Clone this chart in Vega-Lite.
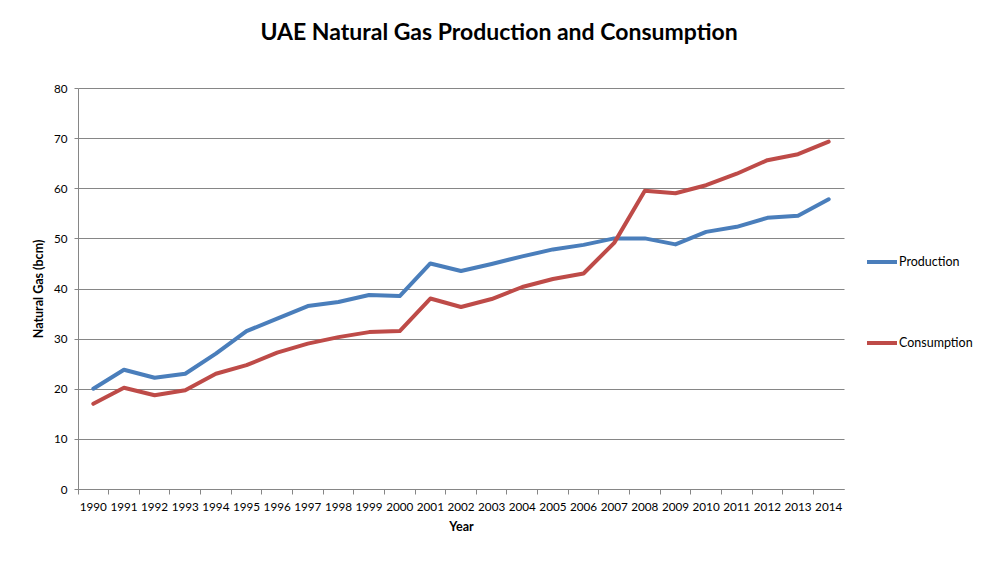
{
  "$schema": "https://vega.github.io/schema/vega-lite/v6.json",
  "autosize": {"type": "none"},
  "width": 766,
  "height": 401,
  "padding": {"left": 78, "top": 88, "right": 154, "bottom": 91},
  "background": "white",
  "title": {
    "text": "UAE Natural Gas Production and Consumption",
    "frame": "group",
    "anchor": "middle",
    "dx": 38,
    "offset": 20,
    "baseline": "alphabetic",
    "font": "Lato",
    "fontSize": 23,
    "fontWeight": "bold",
    "color": "#000000"
  },
  "data": {
    "values": [
      {"year": "1990", "series": "Production", "value": 20.0},
      {"year": "1991", "series": "Production", "value": 23.8},
      {"year": "1992", "series": "Production", "value": 22.2},
      {"year": "1993", "series": "Production", "value": 23.0},
      {"year": "1994", "series": "Production", "value": 27.0},
      {"year": "1995", "series": "Production", "value": 31.5},
      {"year": "1996", "series": "Production", "value": 34.0},
      {"year": "1997", "series": "Production", "value": 36.5},
      {"year": "1998", "series": "Production", "value": 37.3},
      {"year": "1999", "series": "Production", "value": 38.7},
      {"year": "2000", "series": "Production", "value": 38.5},
      {"year": "2001", "series": "Production", "value": 45.0},
      {"year": "2002", "series": "Production", "value": 43.5},
      {"year": "2003", "series": "Production", "value": 44.9},
      {"year": "2004", "series": "Production", "value": 46.4},
      {"year": "2005", "series": "Production", "value": 47.8},
      {"year": "2006", "series": "Production", "value": 48.7},
      {"year": "2007", "series": "Production", "value": 50.0},
      {"year": "2008", "series": "Production", "value": 50.0},
      {"year": "2009", "series": "Production", "value": 48.8},
      {"year": "2010", "series": "Production", "value": 51.3},
      {"year": "2011", "series": "Production", "value": 52.3},
      {"year": "2012", "series": "Production", "value": 54.1},
      {"year": "2013", "series": "Production", "value": 54.5},
      {"year": "2014", "series": "Production", "value": 57.8},
      {"year": "1990", "series": "Consumption", "value": 17.0},
      {"year": "1991", "series": "Consumption", "value": 20.2},
      {"year": "1992", "series": "Consumption", "value": 18.7},
      {"year": "1993", "series": "Consumption", "value": 19.7},
      {"year": "1994", "series": "Consumption", "value": 23.0},
      {"year": "1995", "series": "Consumption", "value": 24.7},
      {"year": "1996", "series": "Consumption", "value": 27.2},
      {"year": "1997", "series": "Consumption", "value": 29.0},
      {"year": "1998", "series": "Consumption", "value": 30.3},
      {"year": "1999", "series": "Consumption", "value": 31.3},
      {"year": "2000", "series": "Consumption", "value": 31.5},
      {"year": "2001", "series": "Consumption", "value": 38.0},
      {"year": "2002", "series": "Consumption", "value": 36.3},
      {"year": "2003", "series": "Consumption", "value": 37.9},
      {"year": "2004", "series": "Consumption", "value": 40.3},
      {"year": "2005", "series": "Consumption", "value": 41.9},
      {"year": "2006", "series": "Consumption", "value": 43.0},
      {"year": "2007", "series": "Consumption", "value": 49.1},
      {"year": "2008", "series": "Consumption", "value": 59.5},
      {"year": "2009", "series": "Consumption", "value": 59.0},
      {"year": "2010", "series": "Consumption", "value": 60.6},
      {"year": "2011", "series": "Consumption", "value": 62.9},
      {"year": "2012", "series": "Consumption", "value": 65.6},
      {"year": "2013", "series": "Consumption", "value": 66.8},
      {"year": "2014", "series": "Consumption", "value": 69.3}
    ]
  },
  "mark": {"type": "line", "strokeWidth": 4, "strokeCap": "round", "strokeJoin": "round"},
  "encoding": {
    "x": {
      "field": "year",
      "type": "ordinal",
      "scale": {"type": "band", "paddingInner": 0, "paddingOuter": 0},
      "axis": {
        "title": "Year",
        "titleFont": "Lato",
        "titleFontSize": 12.5,
        "titleFontWeight": "bold",
        "titleColor": "#000000",
        "titlePadding": 8,
        "labelAngle": 0,
        "labelFont": "Lato",
        "labelFontSize": 11.7,
        "labelColor": "#000000",
        "labelPadding": 7,
        "bandPosition": 0,
        "tickSize": 5,
        "tickColor": "#868686",
        "domainColor": "#868686",
        "grid": false
      }
    },
    "y": {
      "field": "value",
      "type": "quantitative",
      "scale": {"domain": [0, 80]},
      "axis": {
        "title": "Natural Gas (bcm)",
        "titleFont": "Lato",
        "titleFontSize": 12.5,
        "titleFontWeight": "bold",
        "titleColor": "#000000",
        "titlePadding": 8,
        "values": [0, 10, 20, 30, 40, 50, 60, 70, 80],
        "labelFont": "Lato",
        "labelFontSize": 11.7,
        "labelColor": "#000000",
        "labelPadding": 7,
        "tickSize": 4,
        "tickColor": "#868686",
        "domainColor": "#868686",
        "grid": true,
        "gridColor": "#868686",
        "gridWidth": 1
      }
    },
    "color": {
      "field": "series",
      "type": "nominal",
      "scale": {"domain": ["Production", "Consumption"], "range": ["#4A7EBB", "#BE4B48"]},
      "legend": {
        "title": null,
        "orient": "none",
        "legendX": 787,
        "legendY": 157,
        "symbolType": "stroke",
        "symbolSize": 900,
        "symbolStrokeWidth": 4,
        "labelFont": "Lato",
        "labelFontSize": 12.5,
        "labelColor": "#000000",
        "labelOffset": 0,
        "rowPadding": 56
      }
    }
  },
  "config": {"view": {"stroke": null}}
}
